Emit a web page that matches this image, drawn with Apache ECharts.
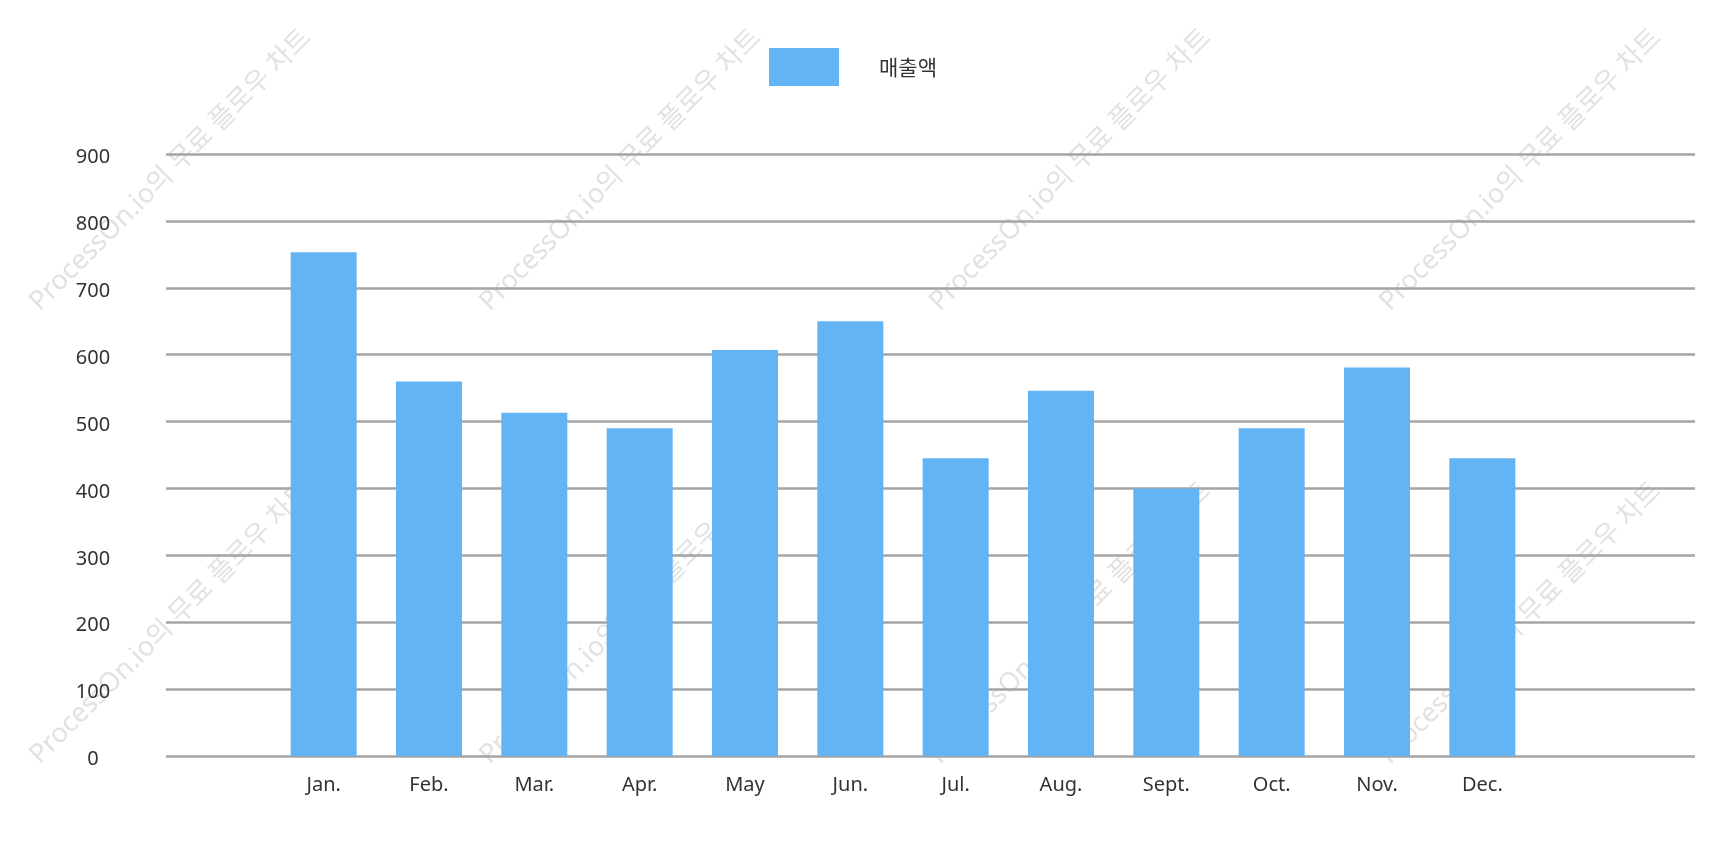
<!DOCTYPE html>
<html>
<head>
<meta charset="utf-8">
<style>
  html, body { margin: 0; padding: 0; background: #fff; }
  #main { width: 1734px; height: 849px; }
</style>
<script src="https://cdn.jsdelivr.net/npm/echarts@6/dist/echarts.min.js"></script>
</head>
<body>
<div id="main"></div>
<script>
// 数据
const months = ['Jan.', 'Feb.', 'Mar.', 'Apr.', 'May', 'Jun.', 'Jul.', 'Aug.', 'Sept.', 'Oct.', 'Nov.', 'Dec.'];
const sales = [753, 560, 513, 490, 607, 650, 445, 546, 400, 490, 581, 445];
const seriesName = '매출액';
const watermarkText = 'ProcessOn.io의 무료 플로우 차트';

const font = '"Noto Sans", "Noto Sans CJK KR", sans-serif';
const gridTop = 154, gridBottom = 93;

// 水印
function buildWatermarks() {
  let els = [];
  for (let r = 0; r < 2; r++) {
    for (let c = 0; c < 4; c++) {
      els.push({
        type: 'text',
        x: 44 + c * 450,
        y: 316 + r * 453,
        rotation: Math.PI / 4,
        silent: true,
        z: -10,
        style: {
          text: watermarkText,
          fill: '#e2e2e2',
          font: '27px "Noto Sans", "Noto Sans CJK KR", sans-serif',
          textAlign: 'left',
          textVerticalAlign: 'bottom'
        }
      });
    }
  }
  return els;
}

const chart = echarts.init(document.getElementById('main'));
chart.setOption({
  backgroundColor: '#fff',
  animation: false,
  graphic: { elements: buildWatermarks() },
  legend: {
    data: [seriesName],
    left: 769,
    top: 48,
    padding: 0,
    icon: 'rect',
    itemWidth: 70,
    itemHeight: 38,
    textStyle: {
      color: '#333',
      fontSize: 21,
      fontFamily: '"Noto Sans CJK KR", sans-serif',
      padding: [4, 0, 0, 35]
    }
  },
  grid: [
    { left: 166, right: 39, top: gridTop, bottom: gridBottom }, // 网格线
    { left: 271, right: 199, top: gridTop, bottom: gridBottom } // 柱子
  ],
  xAxis: [
    { gridIndex: 0, type: 'value', show: false, min: 0, max: 1 },
    {
      gridIndex: 1,
      type: 'category',
      data: months,
      boundaryGap: true,
      axisLine: { show: false },
      axisTick: { show: false },
      axisLabel: { color: '#333', fontSize: 20, fontFamily: font, margin: 19, interval: 0 }
    }
  ],
  yAxis: [
    {
      gridIndex: 0,
      type: 'value',
      min: 0,
      max: 900,
      interval: 100,
      axisLine: { show: false },
      axisTick: { show: false },
      axisLabel: {
        color: '#333', fontSize: 20, fontFamily: font,
        align: 'center', margin: 73, verticalAlign: 'top', lineHeight: 7
      },
      splitLine: { lineStyle: { color: '#a4a4a4', width: 2.5 } }
    },
    {
      gridIndex: 1,
      type: 'value',
      min: 0,
      max: 900,
      interval: 100,
      show: false,
      splitLine: { show: false }
    }
  ],
  series: [{
    name: seriesName,
    type: 'bar',
    xAxisIndex: 1,
    yAxisIndex: 1,
    data: sales,
    barWidth: 66,
    itemStyle: { color: '#63b4f5' }
  }]
});
</script>
</body>
</html>
